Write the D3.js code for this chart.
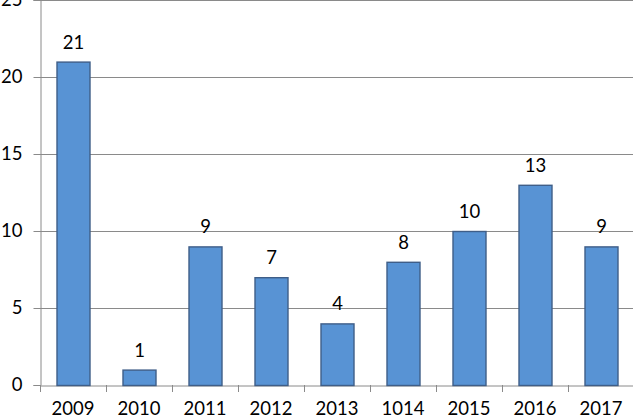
<!DOCTYPE html>
<html><head><meta charset="utf-8">
<script src="https://cdn.jsdelivr.net/npm/d3@7"></script>
<style>html,body{margin:0;padding:0;background:#fff;overflow:hidden}</style>
</head><body>
<svg id="c" width="633" height="419"></svg>
<script>
const categories = ["2009","2010","2011","2012","2013","1014","2015","2016","2017"];
const values = [21,1,9,7,4,8,10,13,9];
const yTicks = [0,5,10,15,20,25];

(function(){
const svg = d3.select("#c");
const mLeft = 40, mRight = 634, mTop = 0, mBottom = 385;
const x = d3.scaleBand().domain(categories).range([mLeft, mRight]).paddingInner(0.5).paddingOuter(0.25);
const y = d3.scaleLinear().domain([0,25]).range([mBottom, mTop]);
const font = "Lato, 'Open Sans', sans-serif";
const fs = 18.5;

// gridlines
svg.append("g").selectAll("line").data(yTicks.filter(d=>d>0)).join("line")
  .attr("x1", mLeft).attr("x2", 633).attr("y1", d=>y(d)+0.5).attr("y2", d=>y(d)+0.5)
  .attr("stroke", "#8a8a8a").attr("stroke-width", 1);

// y axis
const ya = svg.append("g").attr("transform", `translate(${mLeft+0.5},0)`)
  .call(d3.axisLeft(y).tickValues(yTicks).tickSize(7).tickPadding(11).tickFormat(d3.format("d")));
ya.select(".domain").attr("stroke", "#8a8a8a");
ya.selectAll(".tick line").attr("stroke", "#8a8a8a");
ya.selectAll("text").attr("font-family", font).attr("font-size", fs).attr("fill", "#000");

// x axis
const xa = svg.append("g").attr("transform", `translate(0,${mBottom+0.5})`)
  .call(d3.axisBottom(x).tickSize(0).tickPadding(16));
xa.select(".domain").attr("stroke", "#8a8a8a");
xa.selectAll("text").attr("font-family", font).attr("font-size", fs).attr("fill", "#000");
const step = x.step();
svg.append("g").selectAll("line").data(d3.range(categories.length+1)).join("line")
  .attr("x1", i=>mLeft + i*step + 0.5).attr("x2", i=>mLeft + i*step + 0.5)
  .attr("y1", mBottom).attr("y2", mBottom+7).attr("stroke", "#8a8a8a");

// bars
svg.append("g").selectAll("rect").data(values).join("rect")
  .attr("x", (d,i)=>x(categories[i])+0.5)
  .attr("y", d=>y(d)+0.5)
  .attr("width", x.bandwidth())
  .attr("height", d=>y(0)-y(d))
  .attr("fill", "#5893d4").attr("stroke", "#3f5e88").attr("stroke-width", 1.4);

// labels
svg.append("g").selectAll("text").data(values).join("text")
  .attr("x", (d,i)=>x(categories[i])+x.bandwidth()/2+0.5)
  .attr("y", d=>y(d)-13)
  .attr("text-anchor", "middle")
  .attr("font-family", font).attr("font-size", fs).attr("fill", "#000")
  .text(d=>d);
})();
</script>
</body></html>
